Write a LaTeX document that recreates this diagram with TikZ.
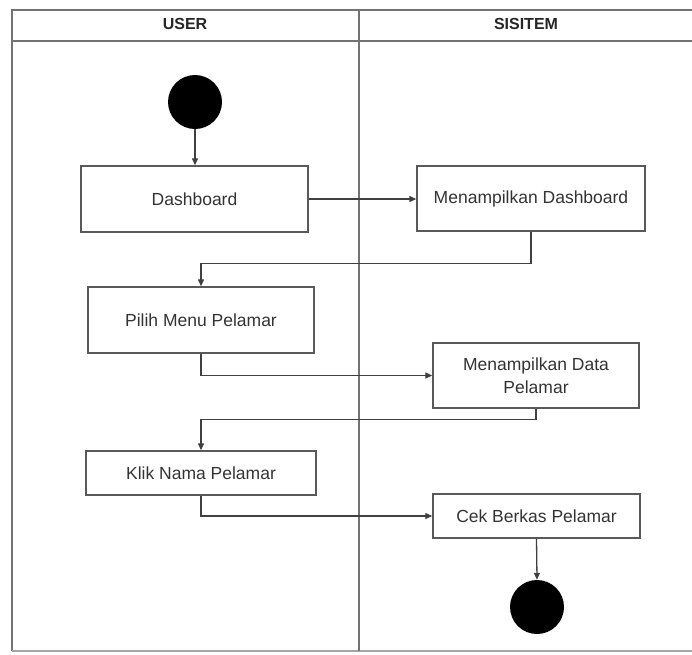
\documentclass[tikz,border=0pt]{standalone}
\usepackage{fontspec}
\setmainfont{Liberation Sans}
\usetikzlibrary{arrows.meta}
\tikzset{
  lane/.style={draw=black!55, line width=1.3pt},
  act/.style={draw=black!65, line width=1.4pt, rectangle, align=center, font=\fontsize{17.5}{23.5}\selectfont, text=black!80, inner sep=0pt},
  startend/.style={circle, fill=black, draw=none, minimum size=54pt, inner sep=0pt},
  arr/.style={draw=black!75, line width=1.3pt, -{Triangle[length=7pt,width=6pt]}},
  head/.style={font=\bfseries\fontsize{16}{19}\selectfont, text=black!85}
}
\begin{document}
\begin{tikzpicture}[x=1pt,y=-1pt]
\useasboundingbox (0,0) rectangle (692,654);
% swimlane frame
\draw[lane] (12,651) -- (12,10) -- (692,10);
\draw[lane] (12,41) -- (692,41);
\draw[lane, draw=black!35] (12,651) -- (692,651);
\draw[lane] (359,10) -- (359,651);
\node[head] (huser) at (185,24) {USER};
\node[head] (hsis) at (526,24) {SISITEM};
% nodes
\node[startend] (start) at (195,102) {};
\node[act, minimum width=227pt, minimum height=66pt] (dash) at (194.5,199) {Dashboard};
\node[act, minimum width=228pt, minimum height=65pt] (mdash) at (531,198.5) {Menampilkan Dashboard};
\node[act, minimum width=226pt, minimum height=66pt] (pilih) at (201,320) {Pilih Menu Pelamar};
\node[act, minimum width=206pt, minimum height=65pt] (mdata) at (536,375.5) {Menampilkan Data\\Pelamar};
\node[act, minimum width=230pt, minimum height=44pt] (klik) at (201,473) {Klik Nama Pelamar};
\node[act, minimum width=207pt, minimum height=44pt] (cek) at (536.5,516) {Cek Berkas Pelamar};
\node[startend] (end) at (537,607) {};
% connectors
\draw[arr] (start) -- (start |- dash.north);
\draw[arr] (dash.east) -- (mdash.west |- dash.east);
\draw[arr] (mdash.south) -- ++(0,32) -| (pilih.north);
\draw[arr] (pilih.south) |- (mdata.west);
\draw[arr] (mdata.south) -- ++(0,11) -| (klik.north);
\draw[arr] (klik.south) |- (cek.west);
\draw[arr] (cek.south) -- (end.north);
\end{tikzpicture}
\end{document}
